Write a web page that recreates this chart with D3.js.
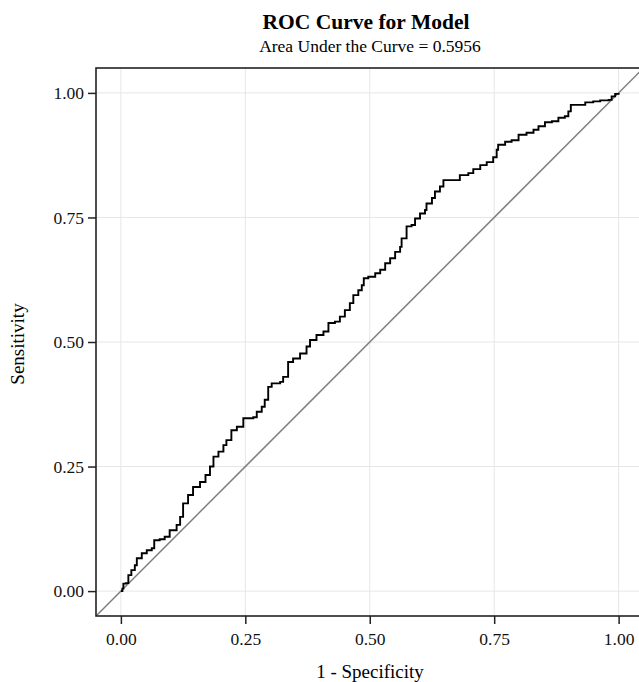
<!DOCTYPE html>
<html>
<head>
<meta charset="utf-8">
<script src="https://cdn.jsdelivr.net/npm/d3@7"></script>
<style>
    body { margin: 0; background: #fff; }
    svg { display: block; font-family: "Liberation Serif", "DejaVu Serif", serif; }
</style>
</head>
<body>
<svg id="chart" width="639" height="682"></svg>
<script>
// ROC curve points
const fpr = [
    0, 0.003, 0.005, 0.010, 0.015, 0.021, 0.028, 0.032, 0.042, 0.052,
    0.062, 0.067, 0.078, 0.088, 0.098, 0.112, 0.119, 0.125, 0.135, 0.145,
    0.159, 0.170, 0.179, 0.186, 0.196, 0.206, 0.212, 0.222, 0.233, 0.246,
    0.266, 0.273, 0.283, 0.289, 0.296, 0.303, 0.320, 0.326, 0.336, 0.346,
    0.360, 0.373, 0.380, 0.393, 0.407, 0.417, 0.430, 0.440, 0.450, 0.460,
    0.467, 0.477, 0.484, 0.488, 0.497, 0.511, 0.521, 0.531, 0.541, 0.551,
    0.561, 0.564, 0.574, 0.584, 0.591, 0.601, 0.611, 0.614, 0.625, 0.631,
    0.641, 0.648, 0.681, 0.698, 0.708, 0.722, 0.735, 0.748, 0.755, 0.758,
    0.772, 0.785, 0.799, 0.815, 0.829, 0.839, 0.852, 0.866, 0.879, 0.892,
    0.899, 0.904, 0.933, 0.949, 0.963, 0.980, 0.986, 0.993, 1.000
];
const tpr = [
    0, 0.005, 0.015, 0.016, 0.032, 0.042, 0.052, 0.066, 0.076, 0.082,
    0.086, 0.102, 0.104, 0.109, 0.122, 0.133, 0.149, 0.176, 0.193, 0.209,
    0.219, 0.233, 0.250, 0.270, 0.280, 0.293, 0.303, 0.323, 0.330, 0.347,
    0.349, 0.360, 0.370, 0.384, 0.410, 0.417, 0.420, 0.430, 0.460, 0.467,
    0.477, 0.491, 0.504, 0.514, 0.521, 0.538, 0.541, 0.551, 0.564, 0.578,
    0.594, 0.604, 0.614, 0.628, 0.631, 0.638, 0.645, 0.658, 0.668, 0.681,
    0.691, 0.708, 0.732, 0.735, 0.748, 0.758, 0.765, 0.778, 0.789, 0.802,
    0.812, 0.825, 0.835, 0.839, 0.847, 0.855, 0.861, 0.871, 0.886, 0.896,
    0.902, 0.905, 0.916, 0.920, 0.926, 0.933, 0.941, 0.943, 0.950, 0.953,
    0.963, 0.976, 0.981, 0.983, 0.985, 0.986, 0.993, 0.998, 1.000
];
const ticks = [0, 0.25, 0.5, 0.75, 1];
const diagonal = [-0.05, 1.05];

const svg = d3.select("#chart");
const pLeft = 96, pRight = 643.5, pTop = 68, pBottom = 616;

const x = d3.scaleLinear().domain([-0.05, 1.05]).range([pLeft, pRight]);
const y = d3.scaleLinear().domain([-0.05, 1.05]).range([pBottom, pTop]);

// titles
svg.append("text")
    .attr("x", 366).attr("y", 29)
    .attr("text-anchor", "middle")
    .style("font-size", "21.5px").style("font-weight", "bold")
    .text("ROC Curve for Model");
svg.append("text")
    .attr("x", 370).attr("y", 52)
    .attr("text-anchor", "middle")
    .style("font-size", "17.5px")
    .text("Area Under the Curve = 0.5956");

// grid
const grid = svg.append("g").attr("stroke", "#e6e6e6").attr("stroke-width", 1);
grid.selectAll(".gx").data(ticks).enter().append("line")
    .attr("x1", d => x(d)).attr("x2", d => x(d))
    .attr("y1", pTop).attr("y2", pBottom);
grid.selectAll(".gy").data(ticks).enter().append("line")
    .attr("x1", pLeft).attr("x2", pRight)
    .attr("y1", d => y(d)).attr("y2", d => y(d));

const plot = svg.append("g");
plot.append("clipPath").attr("id", "clip")
    .append("rect").attr("x", pLeft).attr("y", pTop)
    .attr("width", pRight - pLeft).attr("height", pBottom - pTop);

// reference diagonal
plot.append("line")
    .attr("clip-path", "url(#clip)")
    .attr("x1", x(diagonal[0])).attr("y1", y(diagonal[0]))
    .attr("x2", x(diagonal[1])).attr("y2", y(diagonal[1]))
    .attr("stroke", "#7f7f7f").attr("stroke-width", 1.5);

// ROC curve
const pts = fpr.map((d, i) => [d, tpr[i]]);
plot.append("path")
    .datum(pts)
    .attr("fill", "none")
    .attr("stroke", "#000")
    .attr("stroke-width", 1.9)
    .attr("stroke-linejoin", "miter")
    .attr("d", d3.line().x(d => x(d[0])).y(d => y(d[1])).curve(d3.curveStepAfter));

// axes
const xAxis = d3.axisBottom(x).tickValues(ticks).tickFormat(d3.format(".2f"))
    .tickSize(8).tickSizeOuter(0).tickPadding(4);
const yAxis = d3.axisLeft(y).tickValues(ticks).tickFormat(d3.format(".2f"))
    .tickSize(8).tickSizeOuter(0).tickPadding(4);

const gx = svg.append("g").attr("transform", `translate(0,${pBottom})`).call(xAxis);
const gy = svg.append("g").attr("transform", `translate(${pLeft},0)`).call(yAxis);
[gx, gy].forEach(g => {
    g.select(".domain").remove();
    g.selectAll(".tick line").attr("stroke", "#222").attr("stroke-width", 1.5);
    g.selectAll(".tick text")
        .attr("fill", "#111")
        .style("font-family", "'Liberation Serif', serif")
        .style("font-size", "17.5px");
});
gx.selectAll(".tick text").attr("dy", "0.95em");

// frame
svg.append("rect")
    .attr("x", pLeft).attr("y", pTop)
    .attr("width", pRight - pLeft).attr("height", pBottom - pTop)
    .attr("fill", "none").attr("stroke", "#222").attr("stroke-width", 1.6);

// axis labels
svg.append("text")
    .attr("x", 370).attr("y", 678)
    .attr("text-anchor", "middle")
    .style("font-size", "19px")
    .text("1 - Specificity");
svg.append("text")
    .attr("transform", `translate(24,344) rotate(-90)`)
    .attr("text-anchor", "middle")
    .style("font-size", "19px")
    .text("Sensitivity");
</script>
</body>
</html>
